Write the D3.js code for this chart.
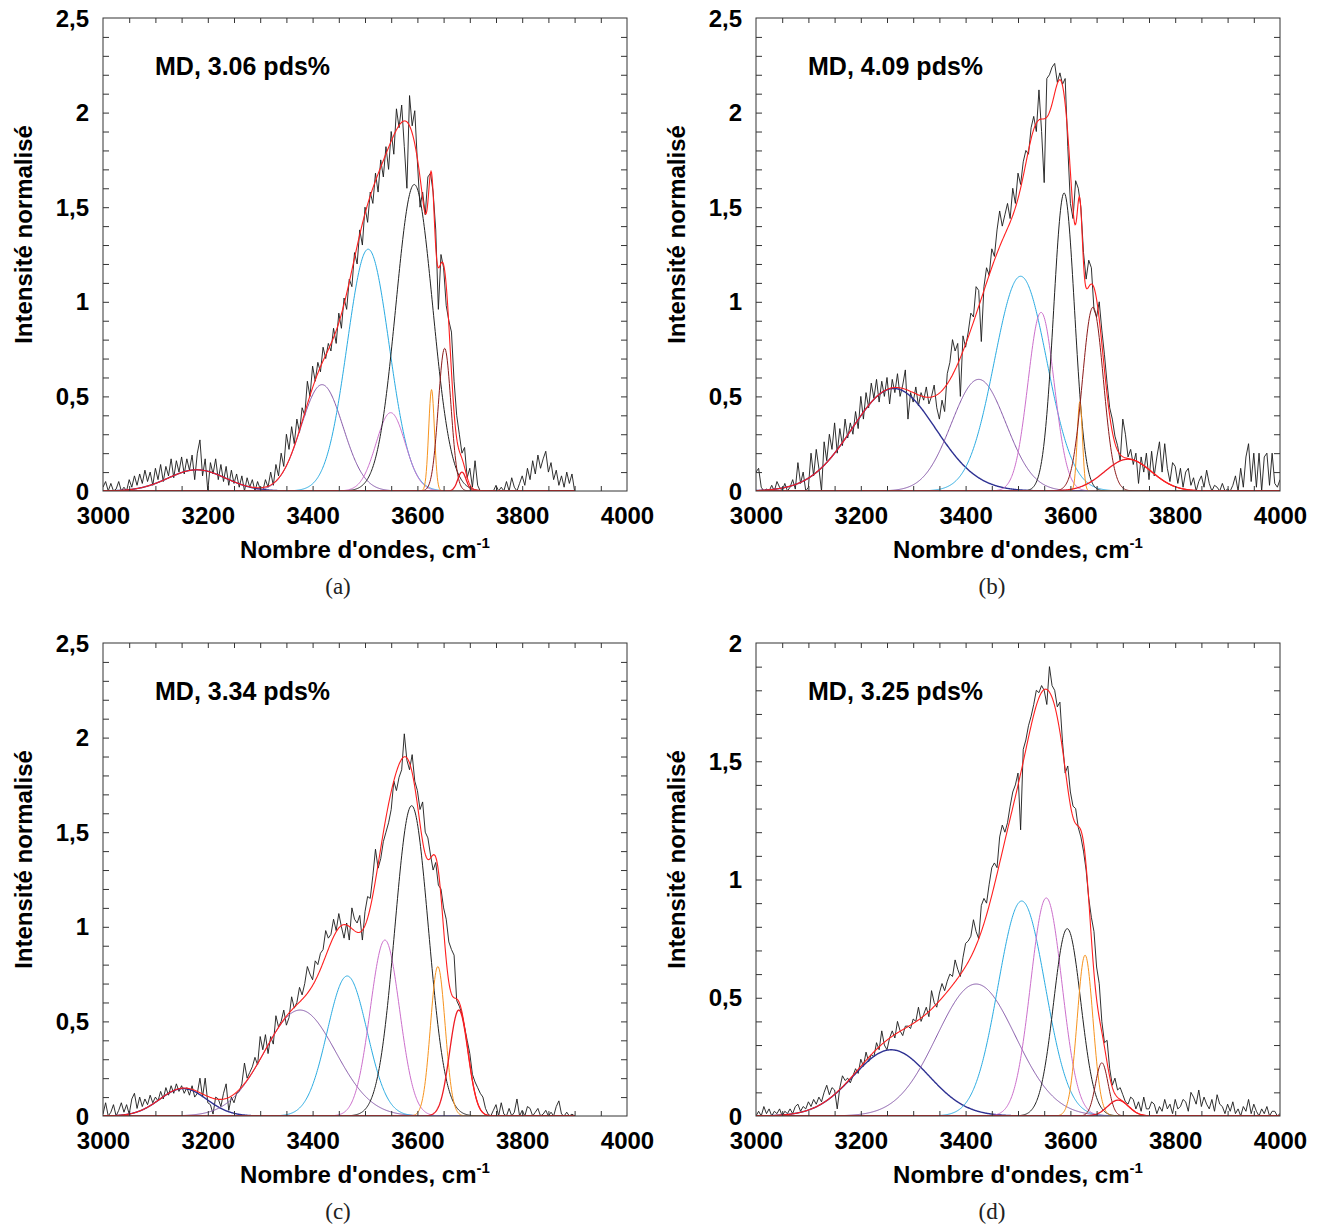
<!DOCTYPE html>
<html><head><meta charset="utf-8">
<script src="https://cdnjs.cloudflare.com/ajax/libs/d3/7.8.5/d3.min.js"></script>
<style>body{margin:0;background:#fff}svg{display:block}</style>
</head><body>
<svg id="fig" width="1325" height="1227"></svg>
<script>
// ---------------- data ----------------
const waveStart = 3000, waveStep = 5;               // cm-1 grid of the measured spectra
const xTickValues = [3000, 3200, 3400, 3600, 3800, 4000];
const yTicksMain = [0, 0.5, 1, 1.5, 2, 2.5];
const yTicksD = [0, 0.5, 1, 1.5, 2];
const sampleLabels = ["MD, 3.06 pds%", "MD, 4.09 pds%", "MD, 3.34 pds%", "MD, 3.25 pds%"];
const subLabels = ["(a)", "(b)", "(c)", "(d)"];

const spectrumA = [
0.02,0.05,0.00,0.04,0.00,0.01,0.05,0.00,0.02,0.00,
0.06,0.02,0.08,0.03,0.09,0.04,0.11,0.05,0.10,0.03,
0.12,0.06,0.14,0.05,0.13,0.08,0.17,0.07,0.16,0.10,
0.18,0.09,0.17,0.11,0.19,0.06,0.20,0.27,0.08,0.17,
0.00,0.15,0.09,0.17,0.06,0.14,0.05,0.13,0.03,0.11,
0.04,0.09,0.02,0.08,0.00,0.07,0.02,0.06,0.00,0.05,
0.01,0.00,0.06,0.02,0.10,0.03,0.14,0.08,0.20,0.13,
0.30,0.22,0.34,0.25,0.38,0.31,0.44,0.40,0.58,0.50,
0.66,0.58,0.68,0.63,0.76,0.70,0.78,0.74,0.86,0.78,
0.94,0.86,1.02,0.96,1.12,1.08,1.26,1.20,1.38,1.30,
1.50,1.42,1.58,1.52,1.68,1.58,1.75,1.66,1.82,1.70,
1.90,1.78,2.02,1.92,2.04,1.82,1.60,2.09,1.93,2.01,
1.74,1.50,1.58,1.46,1.66,1.68,1.58,1.38,0.96,1.25,
1.18,0.98,0.90,0.84,0.58,0.40,0.30,0.20,0.23,0.07,
0.12,0.02,0.16,0.03,0.00,0.00,0.00,0.00,0.00,0.00,
0.03,0.00,0.02,0.00,0.05,0.00,0.07,0.02,0.00,0.04,
0.08,0.03,0.12,0.06,0.16,0.09,0.19,0.12,0.17,0.21,
0.10,0.15,0.06,0.11,0.03,0.08,0.02,0.10,0.04,0.09,
0.00];

const spectrumB = [
0.10,0.12,0.02,0.00,0.01,0.00,0.03,0.00,0.05,0.02,
0.00,0.04,0.00,0.02,0.06,0.01,0.15,0.04,0.10,0.00,
0.02,0.20,0.08,0.22,0.12,0.00,0.26,0.16,0.30,0.22,
0.36,0.20,0.33,0.24,0.38,0.28,0.36,0.30,0.42,0.33,
0.50,0.38,0.52,0.44,0.57,0.49,0.59,0.47,0.58,0.50,
0.60,0.46,0.59,0.52,0.62,0.50,0.56,0.64,0.38,0.52,
0.47,0.55,0.45,0.52,0.48,0.55,0.46,0.50,0.56,0.44,
0.38,0.48,0.42,0.62,0.68,0.80,0.74,0.78,0.50,0.82,
0.76,0.84,0.94,0.92,1.08,1.06,0.79,1.08,1.18,1.14,
1.28,1.24,1.38,1.48,1.40,1.46,1.52,1.44,1.60,1.52,
1.68,1.62,1.74,1.80,1.78,1.92,1.98,1.90,2.12,1.90,
1.63,2.18,2.20,2.24,2.26,2.16,2.21,2.15,2.18,1.82,
1.52,1.44,1.64,1.60,1.50,1.26,1.12,1.22,1.18,0.96,
0.92,1.00,0.85,0.72,0.57,0.44,0.38,0.29,0.24,0.16,
0.38,0.30,0.18,0.22,0.14,0.20,0.04,0.18,0.10,0.20,
0.06,0.21,0.08,0.18,0.26,0.10,0.25,0.12,0.05,0.15,
0.13,0.04,0.12,0.02,0.10,0.12,0.03,0.07,0.00,0.05,
0.08,0.02,0.11,0.04,0.00,0.03,0.02,0.00,0.04,0.00,
0.01,0.00,0.03,0.08,0.00,0.12,0.02,0.18,0.25,0.05,
0.20,0.02,0.20,0.00,0.18,0.20,0.03,0.20,0.04,0.02,
0.06];

const spectrumC = [
0.01,0.07,0.00,0.02,0.06,0.00,0.03,0.07,0.02,0.06,
0.01,0.09,0.12,0.04,0.10,0.05,0.09,0.06,0.11,0.07,
0.10,0.08,0.13,0.09,0.15,0.11,0.16,0.12,0.17,0.13,
0.16,0.12,0.15,0.11,0.16,0.10,0.12,0.20,0.10,0.20,
0.07,0.06,0.01,0.10,0.09,0.05,0.12,0.17,0.03,0.10,
0.07,0.12,0.13,0.17,0.28,0.20,0.23,0.26,0.31,0.27,
0.42,0.35,0.43,0.33,0.42,0.38,0.53,0.47,0.50,0.56,
0.48,0.52,0.63,0.57,0.60,0.68,0.64,0.70,0.79,0.75,
0.72,0.82,0.80,0.86,0.88,0.98,0.94,0.96,1.04,0.98,
1.07,1.00,0.94,1.02,0.93,1.10,1.04,1.02,1.06,0.93,
1.08,1.16,1.15,1.27,1.41,1.31,1.36,1.45,1.50,1.55,
1.62,1.77,1.72,1.79,1.83,2.02,1.88,1.83,1.91,1.77,
1.72,1.62,1.66,1.50,1.47,1.38,1.30,1.34,1.22,1.20,
1.10,1.04,0.92,0.88,0.85,0.61,0.58,0.54,0.47,0.40,
0.33,0.22,0.18,0.15,0.12,0.10,0.04,0.01,0.00,0.03,
0.06,0.00,0.07,0.01,0.00,0.04,0.00,0.02,0.09,0.00,
0.03,0.00,0.05,0.04,0.00,0.02,0.04,0.00,0.01,0.03,
0.00,0.02,0.00,0.05,0.08,0.01,0.00,0.02,0.00,0.01,
0.00];

const spectrumD = [
0.00,0.02,0.00,0.04,0.01,0.03,0.00,0.02,0.01,0.03,
0.00,0.02,0.01,0.03,0.01,0.04,0.05,0.02,0.04,0.03,
0.06,0.04,0.07,0.05,0.08,0.06,0.10,0.13,0.09,0.12,
0.11,0.03,0.12,0.17,0.15,0.16,0.14,0.17,0.20,0.18,
0.24,0.21,0.27,0.23,0.26,0.25,0.31,0.28,0.36,0.30,
0.28,0.33,0.36,0.33,0.40,0.36,0.34,0.38,0.38,0.37,
0.41,0.40,0.46,0.40,0.43,0.46,0.42,0.53,0.48,0.46,
0.52,0.56,0.53,0.57,0.60,0.59,0.66,0.62,0.59,0.67,
0.73,0.74,0.76,0.83,0.78,0.75,0.89,0.92,0.90,0.98,
1.05,1.07,1.05,1.18,1.23,1.20,1.24,1.31,1.37,1.40,
1.45,1.21,1.55,1.59,1.65,1.69,1.74,1.80,1.79,1.82,
1.80,1.74,1.90,1.82,1.80,1.73,1.75,1.58,1.45,1.48,
1.37,1.31,1.30,1.22,1.18,1.12,1.04,0.92,0.84,0.78,
0.63,0.56,0.40,0.31,0.32,0.20,0.13,0.16,0.11,0.12,
0.09,0.06,0.05,0.08,0.07,0.03,0.06,0.02,0.08,0.03,
0.03,0.06,0.05,0.01,0.04,0.02,0.07,0.03,0.05,0.01,
0.07,0.03,0.04,0.07,0.06,0.02,0.10,0.08,0.05,0.11,
0.04,0.08,0.05,0.03,0.07,0.02,0.09,0.05,0.04,0.01,
0.05,0.02,0.06,0.01,0.03,0.00,0.04,0.02,0.07,0.01,
0.05,0.02,0.00,0.03,0.01,0.04,0.00,0.02,0.02,0.00,
0.01];

// Gaussian bands of the decomposition (position cm-1, height, width sigma cm-1)
const bandKeysA    = ["navy","purple","cyan","magenta","black","orange","darkred","red"];
const bandCentersA = [3179, 3418, 3506, 3549, 3594, 3627, 3652, 3685];
const bandHeightsA = [0.112, 0.562, 1.278, 0.414, 1.62, 0.536, 0.754, 0.10];
const bandWidthsA  = [55, 40, 40, 28, 35, 5.5, 12, 8];

const bandKeysB    = ["navy","purple","cyan","magenta","black","orange","darkred","red"];
const bandCentersB = [3263, 3425, 3505, 3544, 3588, 3618, 3643, 3710];
const bandHeightsB = [0.542, 0.59, 1.135, 0.944, 1.575, 0.472, 0.971, 0.168];
const bandWidthsB  = [80, 52, 50, 25, 20, 5, 20, 45];

const bandKeysC    = ["navy","purple","cyan","magenta","black","orange","red"];
const bandCentersC = [3153, 3376, 3466, 3538, 3589, 3639, 3679];
const bandHeightsC = [0.145, 0.56, 0.74, 0.93, 1.64, 0.79, 0.56];
const bandWidthsC  = [45, 68, 38, 28, 32, 14, 17.5];

const bandKeysD    = ["navy","purple","cyan","magenta","black","orange","darkred","red"];
const bandCentersD = [3258, 3420, 3507, 3554, 3594, 3628, 3660, 3691];
const bandHeightsD = [0.28, 0.558, 0.909, 0.922, 0.792, 0.68, 0.225, 0.067];
const bandWidthsD  = [72, 75, 45, 30, 26, 15, 12, 20];

// ---------------- styles / layout ----------------
const bandStyle = {
  navy:    {c: "#2e3192", w: 1.4},
  purple:  {c: "#8456a8", w: 1.0},
  cyan:    {c: "#29abe2", w: 1.0},
  magenta: {c: "#cc6fcc", w: 1.0},
  black:   {c: "#222222", w: 1.0},
  orange:  {c: "#f7931e", w: 1.0},
  darkred: {c: "#8b1a1a", w: 1.0},
  red:     {c: "#ee1c25", w: 1.3}
};
const fitColor = "#ff1f1f";
const sansFont = "'Liberation Sans', Arial, Helvetica, sans-serif";
const serifFont = "'Liberation Serif', 'DejaVu Serif', serif";

const panels = [
  {left: 103, top: 18,  spec: spectrumA, keys: bandKeysA, cen: bandCentersA, hgt: bandHeightsA, wid: bandWidthsA, yMax: 2.5, yTicks: yTicksMain, labCx: 338},
  {left: 756, top: 18,  spec: spectrumB, keys: bandKeysB, cen: bandCentersB, hgt: bandHeightsB, wid: bandWidthsB, yMax: 2.5, yTicks: yTicksMain, labCx: 992},
  {left: 103, top: 643, spec: spectrumC, keys: bandKeysC, cen: bandCentersC, hgt: bandHeightsC, wid: bandWidthsC, yMax: 2.5, yTicks: yTicksMain, labCx: 338},
  {left: 756, top: 643, spec: spectrumD, keys: bandKeysD, cen: bandCentersD, hgt: bandHeightsD, wid: bandWidthsD, yMax: 2.0, yTicks: yTicksD, labCx: 992}
];
const plotW = 524, plotH = 473;

const svg = d3.select("#fig");
const fmtComma = d => String(d).replace(".", ",");

panels.forEach((p, i) => {
  const L = p.left, T = p.top, R = L + plotW, B = T + plotH;
  const x = d3.scaleLinear().domain([3000, 4000]).range([L, R]);
  const y = d3.scaleLinear().domain([0, p.yMax]).range([B, T]);
  const g = svg.append("g");

  const clipId = "clip" + i;
  svg.append("clipPath").attr("id", clipId)
    .append("rect").attr("x", L).attr("y", T).attr("width", plotW).attr("height", plotH);

  const specPts = p.spec.map((v, k) => [waveStart + k * waveStep, v]);
  const xEnd = waveStart + (p.spec.length - 1) * waveStep;
  const grid = d3.range(3000, xEnd + 0.01, 1);

  const bandVal = (k, w) => p.hgt[k] * Math.exp(-((w - p.cen[k]) ** 2) / (2 * p.wid[k] ** 2));
  const line = d3.line().x(d => x(d[0])).y(d => y(d[1]));

  const plot = g.append("g").attr("clip-path", `url(#${clipId})`);

  // measured spectrum
  plot.append("path").datum(specPts).attr("d", line)
    .attr("fill", "none").attr("stroke", "#1a1a1a").attr("stroke-width", 0.9)
    .attr("stroke-linejoin", "round");

  // bands
  p.keys.forEach((key, k) => {
    const pts = grid.map(w => [w, bandVal(k, w)]);
    plot.append("path").datum(pts).attr("d", line)
      .attr("fill", "none").attr("stroke", bandStyle[key].c)
      .attr("stroke-width", bandStyle[key].w);
  });

  // total fit
  const fitPts = grid.map(w => [w, d3.sum(p.keys, (key, k) => bandVal(k, w))]);
  plot.append("path").datum(fitPts).attr("d", line)
    .attr("fill", "none").attr("stroke", fitColor).attr("stroke-width", 1.1);

  // frame
  g.append("rect").attr("x", L).attr("y", T).attr("width", plotW).attr("height", plotH)
    .attr("fill", "none").attr("stroke", "#333").attr("stroke-width", 1);

  // inward ticks
  const xMinor = d3.range(3050, 4000, 50);
  const yMinor = d3.range(0.1, p.yMax - 0.001, 0.1);
  const styleTicks = sel => { sel.select(".domain").remove(); sel.selectAll("line").attr("stroke", "#333"); };
  g.append("g").attr("transform", `translate(0,${B})`)
    .call(d3.axisBottom(x).tickValues(xMinor).tickSize(-5).tickFormat("")).call(styleTicks);
  g.append("g").attr("transform", `translate(0,${T})`)
    .call(d3.axisTop(x).tickValues(xMinor).tickSize(-5).tickFormat("")).call(styleTicks);
  g.append("g").attr("transform", `translate(${L},0)`)
    .call(d3.axisLeft(y).tickValues(yMinor).tickSize(-6).tickFormat("")).call(styleTicks);
  g.append("g").attr("transform", `translate(${R},0)`)
    .call(d3.axisRight(y).tickValues(yMinor).tickSize(-6).tickFormat("")).call(styleTicks);

  // labelled axes
  const xAx = g.append("g").attr("transform", `translate(0,${B})`)
    .call(d3.axisBottom(x).tickValues(xTickValues).tickSize(0).tickPadding(16).tickFormat(d3.format("d")));
  xAx.select(".domain").remove();
  xAx.selectAll("text").attr("font-family", sansFont).attr("font-weight", "bold")
    .attr("font-size", 24).attr("fill", "#000");

  const yAx = g.append("g").attr("transform", `translate(${L},0)`)
    .call(d3.axisLeft(y).tickValues(p.yTicks).tickSize(0).tickPadding(14).tickFormat(fmtComma));
  yAx.select(".domain").remove();
  yAx.selectAll("text").attr("font-family", sansFont).attr("font-weight", "bold")
    .attr("font-size", 24).attr("fill", "#000").attr("dy", "0.34em");

  // axis titles
  const xt = g.append("text").attr("x", (L + R) / 2).attr("y", B + 67)
    .attr("text-anchor", "middle").attr("font-family", sansFont).attr("font-weight", "bold")
    .attr("font-size", 24).attr("fill", "#000");
  xt.append("tspan").text("Nombre d'ondes, cm");
  xt.append("tspan").text("-1").attr("font-size", 15).attr("dy", -10);

  g.append("text").attr("transform", `translate(${L - 71},${(T + B) / 2 - 20}) rotate(-90)`)
    .attr("text-anchor", "middle").attr("font-family", sansFont).attr("font-weight", "bold")
    .attr("font-size", 24).attr("fill", "#000").text("Intensité normalisé");

  // sample annotation
  g.append("text").attr("x", L + 52).attr("y", T + 57)
    .attr("font-family", sansFont).attr("font-weight", "bold").attr("font-size", 25)
    .attr("fill", "#000").text(sampleLabels[i]);

  // sub-figure label
  g.append("text").attr("x", p.labCx).attr("y", B + 103).attr("text-anchor", "middle")
    .attr("font-family", serifFont).attr("font-size", 23).attr("fill", "#222").text(subLabels[i]);
});
</script>
</body></html>
